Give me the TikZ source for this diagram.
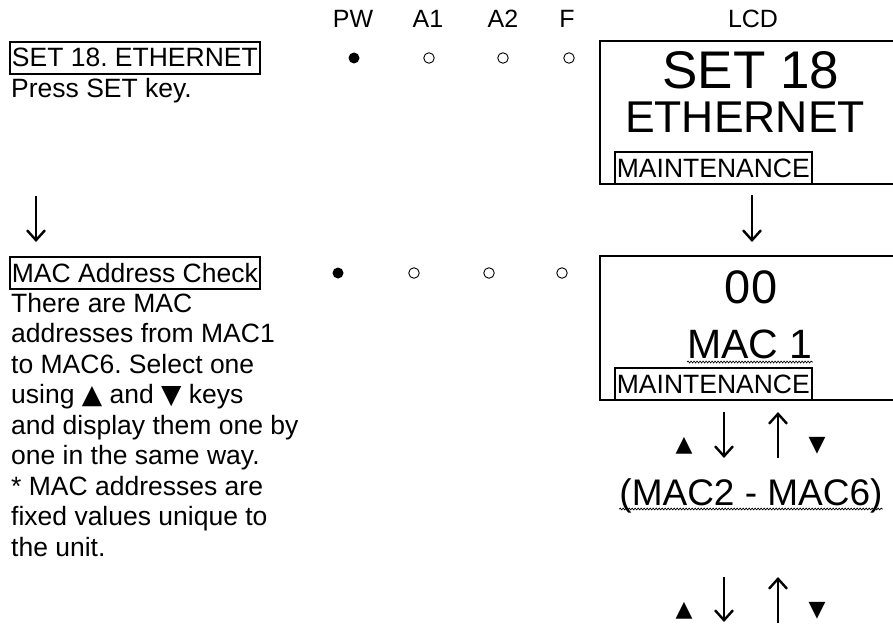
\documentclass[tikz,border=0pt]{standalone}
\usepackage{fontspec}
\setmainfont{Liberation Sans}
\newfontfamily\symfont{DejaVu Sans}
\frenchspacing
\usetikzlibrary{arrows.meta, decorations.pathmorphing, positioning}

\newcommand{\uptri}{{\symfont ▲}}
\newcommand{\dntri}{{\symfont ▼}}

\tikzset{
	bodytext/.style={anchor=base west, inner sep=0pt, font=\fontsize{26.5}{30.5}\selectfont}
}
\tikzset{
	titlebox/.style={anchor=base west, draw, line width=1.8pt, inner xsep=2pt, inner ysep=2pt,
		text height=23pt, text depth=5pt, font=\fontsize{26.5}{30.5}\selectfont}
}
\tikzset{
	headtext/.style={anchor=base, inner sep=0pt, font=\fontsize{25}{28}\selectfont}
}
\tikzset{
	lcdtext/.style={anchor=base, inner sep=0pt, font=\fontsize{#1}{#1}\selectfont}
}
\tikzset{
	ledon/.style={circle, fill=black, minimum size=11pt, inner sep=0pt},
	ledoff/.style={circle, draw=black, line width=0.9pt, minimum size=10.5pt, inner sep=0pt}
}
\tikzset{
	flowarrow/.style={line width=2.4pt, -{Straight Barb[length=10pt, width=18pt]}},
	waveline/.style={line width=0.7pt, decorate, decoration={snake, amplitude=0.9pt, segment length=3pt}},
	keymark/.style={inner sep=0pt, font=\fontsize{22}{22}\selectfont}
}

\begin{document}
\begin{tikzpicture}[x=1pt, y=-1pt]
\useasboundingbox (0,0) rectangle (893,623);

% column heads
\node[headtext] (hdPW) at (353,28) {PW};
\node[headtext] (hdAone) at (428,28) {A1};
\node[headtext] (hdAtwo) at (503,28) {A2};
\node[headtext] (hdF) at (567,28) {F};
\node[headtext] (hdLCD) at (753,28) {LCD};

% step 1
\node[titlebox] (setA) at (9,67) {SET 18. ETHERNET};
\node[bodytext] (pressA) at (11,98) {Press SET key.};

\node[ledon] (pwA) at (354,58) {};
\node[ledoff] (aoneA) at (429,58) {};
\node[ledoff] (atwoA) at (503,58) {};
\node[ledoff] (fA) at (569,58) {};

\draw[line width=1.8pt] (893,41) -- (600,41) -- (600,184) -- (893,184);
\node[lcdtext=53] (lcdAtop) at (751,89) {SET 18};
\node[lcdtext=44.5] (lcdAmid) at (745,132) {ETHERNET};
\node[titlebox] (maintA) at (614,177) {MAINTENANCE};

% step arrows
\coordinate (lArrTop) at (36,196);
\coordinate (lArrBot) at (36,242);
\coordinate (rArrTop) at (752,195);
\coordinate (rArrBot) at (752,242);
\draw[flowarrow] (lArrTop) -- (lArrBot);
\draw[flowarrow] (rArrTop) -- (rArrBot);

% step 2
\node[titlebox] (macB) at (9,282) {MAC Address Check};
\foreach \txt [count=\i from 0] in {There are MAC, addresses from MAC1, to MAC6. Select one,
	using \uptri\ and \dntri\ keys, and display them one by, one in the same way.,
	* MAC addresses are, fixed values unique to, the unit.}
	\node[bodytext] (descB\i) at (11,312+30.5*\i) {\txt};

\node[ledon] (pwB) at (338,273) {};
\node[ledoff] (aoneB) at (414,273) {};
\node[ledoff] (atwoB) at (489,273) {};
\node[ledoff] (fB) at (562,273) {};

\draw[line width=1.8pt] (893,256) -- (600,256) -- (600,400) -- (893,400);
\node[lcdtext=47] (lcdBtop) at (751,303) {00};
\node[lcdtext=41] (lcdBmid) at (750,358) {MAC 1};
\draw[waveline] ([yshift=-4pt]lcdBmid.base west) -- ([yshift=-4pt]lcdBmid.base east);
\node[titlebox] (maintB) at (614,393) {MAINTENANCE};

% up / down keys
\node[keymark] (upC) at (684,446) {\uptri};
\node[keymark] (downC) at (817,446) {\dntri};
\coordinate (dnCtop) at (724,412);
\coordinate (dnCbot) at (724,458);
\coordinate (upCtop) at (778,412);
\coordinate (upCbot) at (778,458);
\draw[flowarrow] (dnCtop) -- (dnCbot);
\draw[flowarrow] (upCbot) -- (upCtop);

\node[lcdtext=37] (rangeC) at (751,505) {(MAC2 - MAC6)};
\draw[waveline] ([yshift=-4pt]rangeC.base west) -- ([yshift=-4pt]rangeC.base east);

\node[keymark] (upD) at (684,611) {\uptri};
\node[keymark] (downD) at (817,611) {\dntri};
\coordinate (dnDtop) at (724,577);
\coordinate (dnDbot) at (724,622);
\coordinate (upDtop) at (778,577);
\coordinate (upDbot) at (778,623);
\draw[flowarrow] (dnDtop) -- (dnDbot);
\draw[flowarrow] (upDbot) -- (upDtop);

\end{tikzpicture}
\end{document}
